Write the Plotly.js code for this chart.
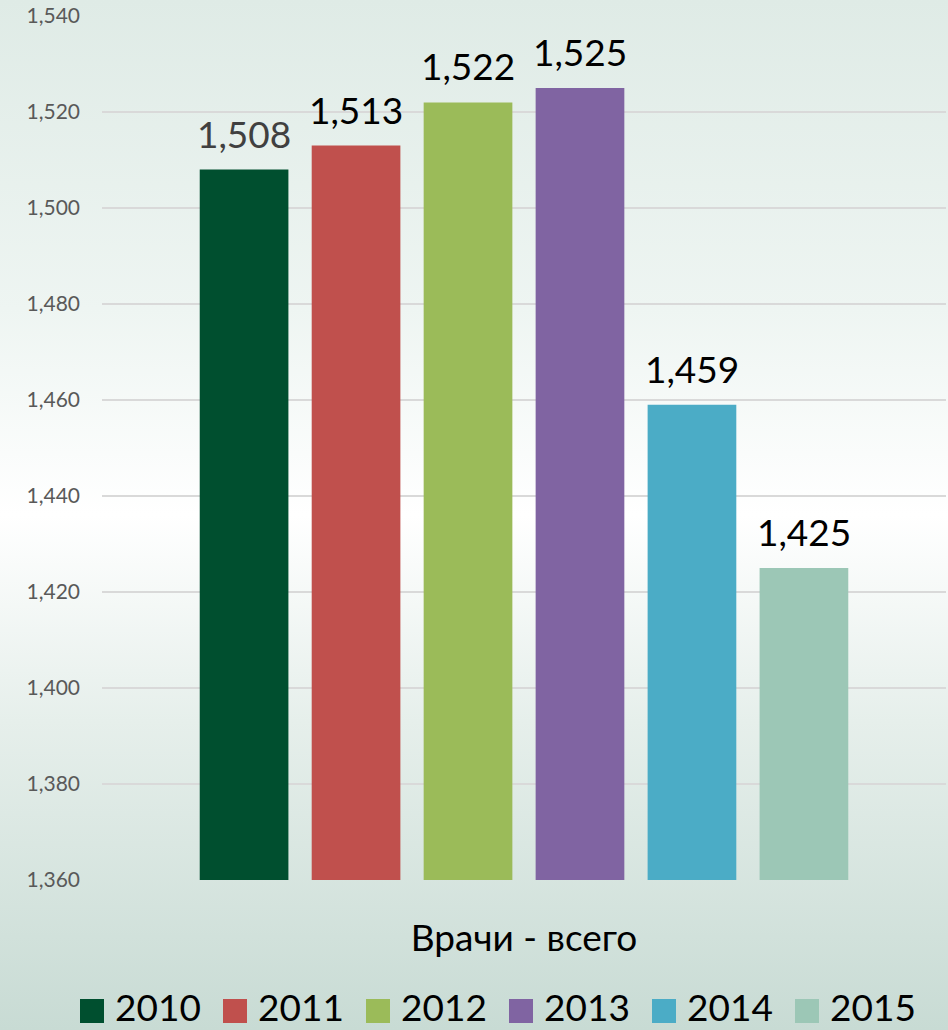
<!DOCTYPE html>
<html>
<head>
<meta charset="utf-8">
<script src="https://cdn.plot.ly/plotly-3.0.1.min.js"></script>
<style>
  html, body { margin: 0; padding: 0; }
  #chart {
    width: 948px; height: 1030px;
    background: linear-gradient(to bottom, #dfebe6 0%, #eef5f2 30%, #ffffff 50%, #e6efeb 70%, #c8dbd4 100%);
  }
</style>
</head>
<body>
<div id="chart"></div>
<script>
// data
var category = ["Врачи - всего"];
var years = ["2010", "2011", "2012", "2013", "2014", "2015"];
var doctors = [1508, 1513, 1522, 1525, 1459, 1425];
var colors = ["#004f2f", "#c0504d", "#9bbb59", "#8064a2", "#4bacc6", "#9cc7b6"];
var labelColors = ["#404040", "#000000", "#000000", "#000000", "#000000", "#000000"];

var W = 948, H = 1030;
var margin = { l: 102, r: 2, t: 16, b: 150 };
var plotW = W - margin.l - margin.r;
var plotH = H - margin.t - margin.b;
var bargap = 0.204;
var slotPx = plotW * (1 - bargap) / years.length; // width of one bar slot

var traces = [];
var annotations = [];
var shapes = [];
for (var i = 0; i < years.length; i++) {
  traces.push({
    type: "bar",
    name: years[i],
    x: category,
    y: [doctors[i]],
    marker: { color: colors[i] },
    showlegend: false,
    hoverinfo: "none"
  });
  // value label above each bar
  annotations.push({
    x: category[0],
    y: doctors[i],
    xref: "x",
    yref: "y",
    text: doctors[i].toLocaleString("en-US"),
    showarrow: false,
    xshift: (i - (years.length - 1) / 2) * slotPx,
    yanchor: "bottom",
    yshift: 12,
    font: { family: "Lato", size: 37, color: labelColors[i] }
  });
}

// legend drawn by hand so the swatches can be big
var legendLeft = 80, legendPitch = 143, legendTop = 999, swatch = 24;
function px2x(px) { return (px - margin.l) / plotW; }
function px2y(py) { return (H - margin.b - py) / plotH; }
for (var i = 0; i < years.length; i++) {
  var left = legendLeft + i * legendPitch;
  shapes.push({
    type: "rect",
    xref: "paper", yref: "paper",
    x0: px2x(left), x1: px2x(left + swatch),
    y0: px2y(legendTop + swatch), y1: px2y(legendTop),
    fillcolor: colors[i],
    line: { width: 0 }
  });
  annotations.push({
    xref: "paper", yref: "paper",
    x: px2x(left + swatch + 10),
    y: px2y(1030),
    xanchor: "left",
    yanchor: "bottom",
    borderpad: 0,
    text: years[i],
    showarrow: false,
    font: { family: "Lato", size: 37, color: "#000000" }
  });
}

var layout = {
  width: W,
  height: H,
  paper_bgcolor: "rgba(0,0,0,0)",
  plot_bgcolor: "rgba(0,0,0,0)",
  font: { family: "Lato", color: "#000000" },
  margin: margin,
  barmode: "group",
  bargap: bargap,
  bargroupgap: 0.208,
  showlegend: false,
  xaxis: {
    type: "category",
    showgrid: false,
    showline: false,
    zeroline: false,
    ticks: "",
    tickfont: { family: "Lato", size: 37, color: "#000000" },
    ticklabelstandoff: 33
  },
  yaxis: {
    range: [1360, 1540],
    dtick: 20,
    tickformat: ",d",
    showgrid: true,
    gridcolor: "#d9d9d9",
    gridwidth: 1.5,
    zeroline: false,
    showline: false,
    ticks: "",
    tickfont: { family: "Lato", size: 21, color: "#595959" },
    ticklabelstandoff: 21
  },
  annotations: annotations,
  shapes: shapes
};

Plotly.newPlot("chart", traces, layout, { displayModeBar: false, staticPlot: true });
</script>
</body>
</html>
